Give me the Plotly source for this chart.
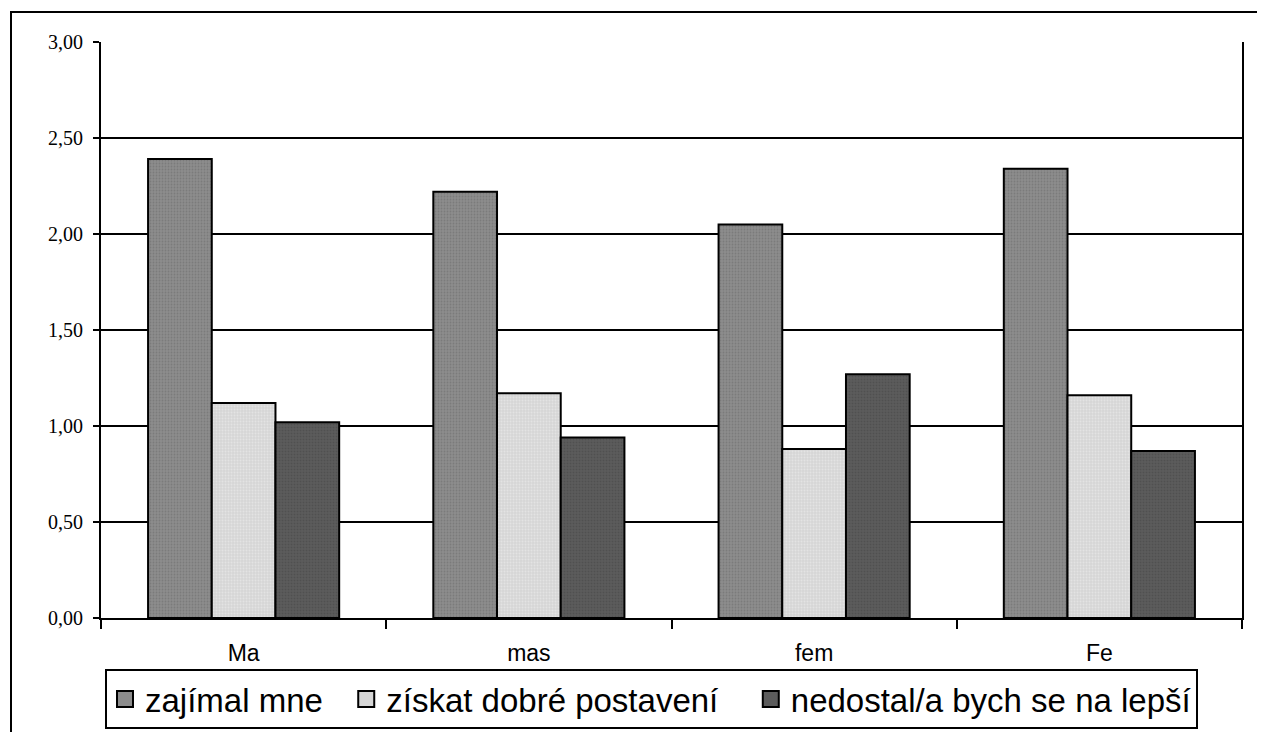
import plotly.graph_objects as go

categories = ["Ma", "mas", "fem", "Fe"]
series_names = ["zajímal mne", "získat dobré postavení", "nedostal/a bych se na lepší"]
zajimal = [2.39, 2.22, 2.05, 2.34]
ziskat = [1.12, 1.17, 0.88, 1.16]
nedostal = [1.02, 0.94, 1.27, 0.87]
tick_vals = [0, 0.5, 1.0, 1.5, 2.0, 2.5, 3.0]
tick_text = ["0,00", "0,50", "1,00", "1,50", "2,00", "2,50", "3,00"]

colors = ["#8c8c8c", "#d6d6d6", "#5c5c5c"]
pattern_fg = ["#6a6a6a", "#f0f0f0", "#444444"]
legend_pad = ["\u00a0\u00a0", "\u00a0\u00a0\u00a0", ""]

fig = go.Figure()
for name, vals, c, fg in zip(series_names, [zajimal, ziskat, nedostal], colors, pattern_fg):
    fig.add_trace(go.Bar(
        x=categories, y=vals, name=name, showlegend=False, legendgroup=name,
        marker=dict(color=c, line=dict(color="black", width=2),
                    pattern=dict(shape=".", size=3, solidity=0.3, fgcolor=fg, bgcolor=c)),
    ))
# legend-only entries with larger square symbols
for name, c, pad in zip(series_names, colors, legend_pad):
    fig.add_trace(go.Scatter(
        x=[None], y=[None], mode="markers", name=name + pad, legendgroup=name,
        marker=dict(symbol="square", size=16, color=c, line=dict(color="black", width=2)),
    ))

# page has an 8px body margin; figure coordinates are offset accordingly
OFF = 8
W, H = 1265 - 2 * OFF, 740 - 2 * OFF
L, T = 101 - OFF, 42 - OFF
R = W - (1242 - OFF)
B = H - (618 - OFF)
pw, ph = W - L - R, H - T - B

def px(x):
    return (x - OFF - L) / pw

def py(y):
    return (H - B - (y - OFF)) / ph

fig.update_layout(
    width=W, height=H,
    margin=dict(l=L, r=R, t=T, b=B, pad=0, autoexpand=False),
    paper_bgcolor="white", plot_bgcolor="white",
    barmode="group", bargap=0.33, bargroupgap=0,
    font=dict(family="Liberation Sans, Arial", color="black"),
    showlegend=True,
    legend=dict(orientation="h", x=px(105), y=py(669), xanchor="left", yanchor="top",
                font=dict(size=33, family="Liberation Sans, Arial", color="black"),
                bordercolor="black", borderwidth=2, bgcolor="white",
                itemwidth=30, tracegroupgap=0),
    xaxis=dict(showline=True, linecolor="black", linewidth=2, mirror=False,
               ticks="outside", ticklen=9, tickwidth=2, tickcolor="black",
               tickson="boundaries", showgrid=False,
               tickfont=dict(size=23, family="Liberation Sans, Arial", color="black"),
               ticklabelstandoff=13),
    yaxis=dict(range=[0, 3], tickvals=tick_vals, ticktext=tick_text,
               showline=True, linecolor="black", linewidth=2, mirror=True,
               ticks="outside", ticklen=6, tickwidth=2, tickcolor="black",
               showgrid=True, gridcolor="black", gridwidth=2, zeroline=False,
               tickfont=dict(size=20, family="Liberation Serif, Times New Roman", color="black"),
               ticklabelstandoff=6),
    shapes=[dict(type="rect", xref="paper", yref="paper",
                 x0=px(11), x1=px(1285), y0=py(760), y1=py(12),
                 line=dict(color="black", width=2), fillcolor="rgba(0,0,0,0)", layer="below")],
)

fig.write_html("out.html")
